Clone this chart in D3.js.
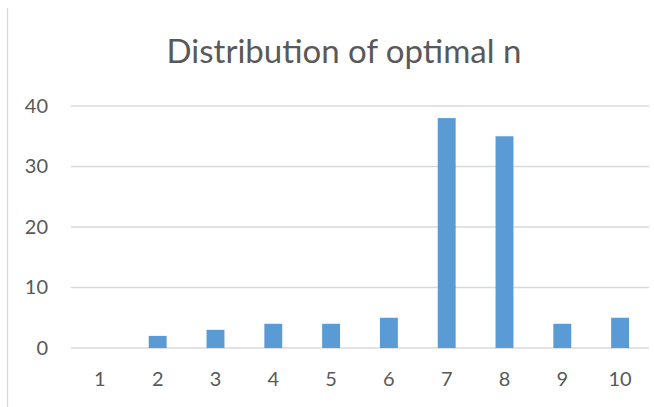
<html>
  <head>
    <meta charset="utf-8">
    <style>
body { margin: 0; background: #fff; }
.bar { fill: #5b9bd5; }
.grid line { stroke: #d9d9d9; stroke-width: 1.3; }
.axis text { fill: #595959; font-family: Lato, "Open Sans", sans-serif; font-size: 20px; }
.title { fill: #595959; font-family: Lato, "Open Sans", sans-serif; font-size: 33px; }
    </style>
  </head>
  <body>
    <svg width="654" height="407"></svg>
    <script src="https://d3js.org/d3.v7.min.js"></script>
    <script>

var categories = ["1", "2", "3", "4", "5", "6", "7", "8", "9", "10"];
var counts = [0, 2, 3, 4, 4, 5, 38, 35, 4, 5];
var yTicks = [0, 10, 20, 30, 40];

var svg = d3.select("svg"),
    margin = {top: 106, right: 5, bottom: 59, left: 71},
    width = +svg.attr("width") - margin.left - margin.right,
    height = +svg.attr("height") - margin.top - margin.bottom;

// chart frame edge on the left
svg.append("line")
  .attr("x1", 7.5).attr("x2", 7.5)
  .attr("y1", 8).attr("y2", 407)
  .attr("stroke", "#d9d9d9").attr("stroke-width", 1.3);

var x = d3.scaleBand().domain(categories).range([0, width]).paddingInner(0.69).paddingOuter(0.345),
    y = d3.scaleLinear().domain([0, 40]).range([height, 0]);

var g = svg.append("g")
  .attr("transform", "translate(" + margin.left + "," + margin.top + ")");

g.append("g")
  .attr("class", "grid")
  .selectAll("line")
  .data(yTicks)
  .enter().append("line")
  .attr("x1", 0).attr("x2", width)
  .attr("y1", function(d) { return y(d); })
  .attr("y2", function(d) { return y(d); });

g.selectAll(".bar")
  .data(counts)
  .enter().append("rect")
  .attr("class", "bar")
  .attr("x", function(d, i) { return x(categories[i]); })
  .attr("y", function(d) { return y(d); })
  .attr("width", x.bandwidth())
  .attr("height", function(d) { return height - y(d); });

var yAxis = g.append("g")
  .attr("class", "axis")
  .call(d3.axisLeft(y).tickValues(yTicks).tickSize(0).tickPadding(23));
yAxis.select(".domain").remove();

var xAxis = g.append("g")
  .attr("class", "axis")
  .attr("transform", "translate(0," + height + ")")
  .call(d3.axisBottom(x).tickSize(0).tickPadding(24));
xAxis.select(".domain").remove();

svg.append("text")
  .attr("class", "title")
  .attr("x", 344)
  .attr("y", 63)
  .attr("text-anchor", "middle")
  .text("Distribution of optimal n");

    </script>
  </body>
</html>
